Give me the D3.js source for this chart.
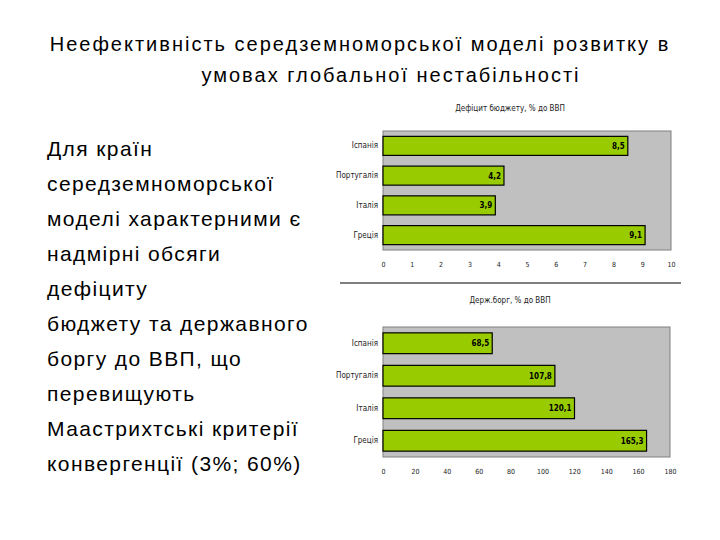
<!DOCTYPE html>
<html>
<head>
<meta charset="utf-8">
<script src="https://cdn.jsdelivr.net/npm/d3@7"></script>
<style>
body { margin: 0; background: #fff; }
</style>
</head>
<body>
<div id="chart-area"></div>
<script>
// data
var countries = ["Іспанія", "Португалія", "Італія", "Греція"];
var deficit = [8.5, 4.2, 3.9, 9.1];
var debt = [68.5, 107.8, 120.1, 165.3];
var deficitTicks = [0, 1, 2, 3, 4, 5, 6, 7, 8, 9, 10];
var debtTicks = [0, 20, 40, 60, 80, 100, 120, 140, 160, 180];

var titleLines = ["Неефективність середземноморської моделі розвитку в",
    "умовах глобальної нестабільності"];
var bodyLines = ["Для країн", "середземноморської", "моделі характерними є",
    "надмірні обсяги", "дефіциту", "бюджету та державного", "боргу до ВВП, що",
    "перевищують", "Маастрихтські критерії", "конвергенції (3%; 60%)"];

var width = 720;
var height = 540;

var svg = d3.select("#chart-area").append("svg")
    .attr("width", width)
    .attr("height", height);

// slide title
svg.selectAll("text.title")
    .data(titleLines)
    .enter().append("text")
    .attr("class", "title")
    .attr("x", (d, i) => i == 0 ? 360 : 391)
    .attr("y", (d, i) => 51 + i * 31)
    .attr("text-anchor", "middle")
    .attr("font-family", "Liberation Sans, Arial, sans-serif")
    .attr("font-size", "20px")
    .attr("letter-spacing", "2px")
    .attr("fill", "#000")
    .text(d => d);

// left text block
svg.selectAll("text.body")
    .data(bodyLines)
    .enter().append("text")
    .attr("class", "body")
    .attr("x", 47)
    .attr("y", (d, i) => 156 + i * 35)
    .attr("font-family", "Liberation Sans, Arial, sans-serif")
    .attr("font-size", "21px")
    .attr("letter-spacing", "1.4px")
    .attr("fill", "#000")
    .text(d => d);

var fmt = (v) => String(v).replace(".", ",");

function drawChart(opts) {
    var g = svg.append("g")
        .attr("transform", "translate(" + opts.left + ", " + opts.top + ")");

    var x = d3.scaleLinear()
        .domain([0, opts.max])
        .range([0, opts.w]);
    var y = d3.scaleBand()
        .domain(countries)
        .range([0, opts.h])
        .paddingInner(0.36)
        .paddingOuter(0.18);

    // plot background
    g.append("rect")
        .attr("width", opts.w)
        .attr("height", opts.h)
        .attr("fill", "#c0c0c0")
        .attr("stroke", "#808080")
        .attr("stroke-width", 1);

    // title
    svg.append("text")
        .attr("x", 510)
        .attr("y", opts.titleY)
        .attr("text-anchor", "middle")
        .attr("font-family", "Liberation Sans Narrow, DejaVu Sans Condensed, sans-serif")
        .attr("font-size", "8px")
        .attr("fill", "#222")
        .text(opts.title);

    g.selectAll("rect.bar")
        .data(opts.values)
        .enter().append("rect")
        .attr("class", "bar")
        .attr("x", 0)
        .attr("y", (d, i) => y(countries[i]))
        .attr("width", d => x(d))
        .attr("height", y.bandwidth())
        .attr("fill", "#99cc00")
        .attr("stroke", "#000")
        .attr("stroke-width", 1.2);

    g.selectAll("text.val")
        .data(opts.values)
        .enter().append("text")
        .attr("class", "val")
        .attr("x", d => x(d) - 3)
        .attr("y", (d, i) => y(countries[i]) + y.bandwidth() / 2 + 3)
        .attr("text-anchor", "end")
        .attr("font-family", "DejaVu Sans Condensed, sans-serif")
        .attr("font-size", "8px")
        .attr("font-weight", "bold")
        .attr("fill", "#000")
        .text(d => fmt(d));

    var leftAxis = d3.axisLeft(y).tickSize(0).tickPadding(5);
    var la = g.append("g").attr("class", "left axis").call(leftAxis);
    la.select(".domain").remove();
    la.selectAll("text")
        .attr("font-family", "DejaVu Sans Condensed, sans-serif")
        .attr("font-size", "8px")
        .attr("fill", "#222");

    var bottomAxis = d3.axisBottom(x).tickValues(opts.ticks).tickSize(0).tickPadding(12);
    var ba = g.append("g")
        .attr("class", "bottom axis")
        .attr("transform", "translate(0, " + opts.h + ")")
        .call(bottomAxis);
    ba.select(".domain").remove();
    ba.selectAll("text")
        .attr("font-family", "DejaVu Sans Condensed, sans-serif")
        .attr("font-size", "7px")
        .attr("fill", "#222");
}

drawChart({ left: 383, top: 131, w: 288, h: 119, max: 10, values: deficit,
    ticks: deficitTicks, title: "Дефіцит бюджету, % до ВВП", titleY: 111 });

// separator line
svg.append("line")
    .attr("x1", 340).attr("x2", 681)
    .attr("y1", 283).attr("y2", 283)
    .attr("stroke", "#000")
    .attr("stroke-width", 1.2);

drawChart({ left: 383, top: 327, w: 287, h: 130, max: 180, values: debt,
    ticks: debtTicks, title: "Держ.борг, % до ВВП", titleY: 303 });
</script>
</body>
</html>
